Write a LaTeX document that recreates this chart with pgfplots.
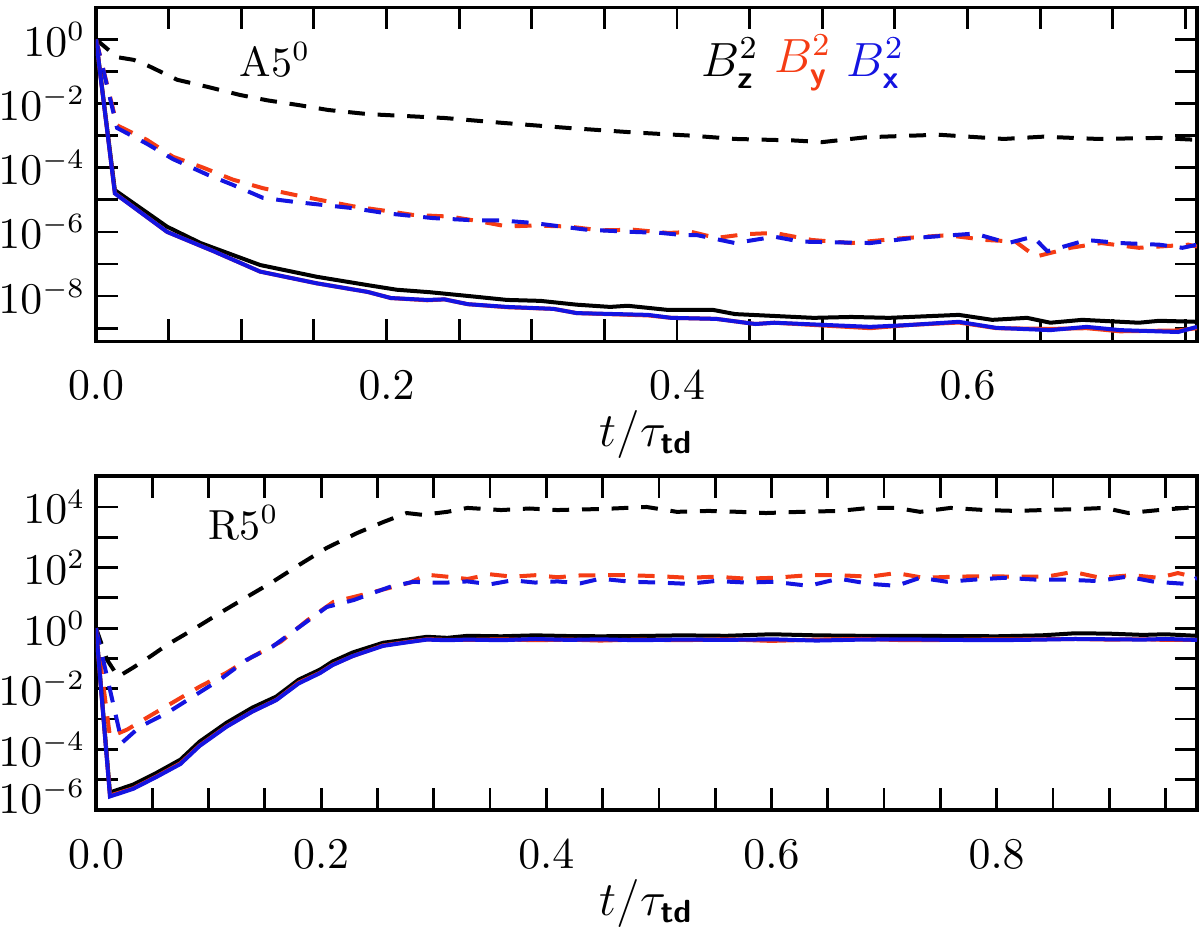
\documentclass[border=0pt]{standalone}
\usepackage{amsmath}
\usepackage{pgfplots}
\pgfplotsset{compat=1.18}
\definecolor{myred}{RGB}{245,60,20}
\definecolor{myblue}{RGB}{20,20,225}
\tikzset{dsh/.style={dash pattern=on 4.2pt off 3.2pt}}
\begin{document}
\begin{tikzpicture}
\useasboundingbox (0,0) rectangle (300pt,-233pt);
% ---------------- top panel ----------------
\begin{axis}[
  scale only axis, width=275.25pt, height=83.5pt,
  anchor=north west, at={(24pt,-1.825pt)},
  ymode=log, xmin=0, xmax=0.758, ymin=3.9e-10, ymax=10,
  axis line style={line width=0.8pt},
  tick style={line width=0.7pt, black},
  major tick length=5.5pt, minor tick length=5.5pt,
  tick align=inside,
  tick label style={font=\fontsize{11}{13}\selectfont},
  yticklabel style={font=\fontsize{10.5}{12}\selectfont, inner xsep=0pt, xshift=-2.5pt},
  xticklabel style={anchor=center, yshift=-11pt},
  x tick label style={/pgf/number format/fixed, /pgf/number format/fixed zerofill, /pgf/number format/precision=1},
  xlabel={$t/\tau_{\textsf{\textbf{td}}}$},
  xlabel style={font=\fontsize{12}{14}\selectfont, at={(axis description cs:0.5,0)}, anchor=base, yshift=-26.25pt},
  xtick={0,0.2,0.4,0.6},
  minor xtick={0.05,0.1,0.15,0.25,0.3,0.35,0.45,0.5,0.55,0.65,0.7,0.75},
  ytick={1e-8,1e-6,1e-4,1e-2,1},
  minor ytick={1e-9,1e-7,1e-5,1e-3,1e-1},
]
% black dashed
\addplot[black, dsh, line width=1pt] coordinates {
(0,1) (0.0145,0.28) (0.026,0.23) (0.035,0.158) (0.056,0.055) (0.077,0.033) (0.099,0.0186) (0.118,0.0126)
(0.14,8.9e-3) (0.16,6.3e-3) (0.187,4.7e-3) (0.24,3.55e-3) (0.28,2.5e-3) (0.325,1.74e-3) (0.37,1.26e-3)
(0.41,1.0e-3) (0.44,7.9e-4) (0.48,7.1e-4) (0.50,6.3e-4) (0.53,8.9e-4) (0.58,1.07e-3) (0.625,7.9e-4)
(0.652,9.3e-4) (0.69,7.9e-4) (0.732,8.5e-4) (0.758,7.4e-4)};
% red dashed
\addplot[myred, dsh, line width=1pt] coordinates {
(0,1) (0.0145,2.1e-3) (0.035,7.4e-4) (0.053,2.2e-4) (0.074,1.0e-4) (0.094,4.3e-5) (0.115,2.3e-5)
(0.136,1.45e-5) (0.154,1.0e-5) (0.177,6.3e-6) (0.2,4.5e-6) (0.218,3.4e-6) (0.244,3.0e-6) (0.265,2.1e-6)
(0.283,1.48e-6) (0.301,1.58e-6) (0.325,1.48e-6) (0.347,1.12e-6) (0.37,1.17e-6) (0.394,9.3e-7) (0.41,1.0e-6)
(0.427,6.5e-7) (0.447,8.5e-7) (0.467,9.3e-7) (0.493,5.6e-7) (0.52,4.5e-7) (0.554,6.3e-7) (0.586,7.9e-7)
(0.613,5.6e-7) (0.633,5.0e-7) (0.647,1.7e-7) (0.671,3.2e-7) (0.692,4.5e-7) (0.718,3.2e-7) (0.752,4.0e-7) (0.758,3.5e-7)};
% blue dashed
\addplot[myblue, dsh, line width=1pt] coordinates {
(0,1) (0.0145,1.74e-3) (0.035,5.6e-4) (0.053,1.86e-4) (0.077,6.0e-5) (0.094,2.95e-5) (0.115,1.15e-5)
(0.136,8.7e-6) (0.154,7.1e-6) (0.177,5.5e-6) (0.2,3.8e-6) (0.232,2.7e-6) (0.26,2.3e-6) (0.278,2.3e-6)
(0.301,1.9e-6) (0.338,1.17e-6) (0.37,1.0e-6) (0.389,9.3e-7) (0.405,7.9e-7) (0.414,7.9e-7) (0.44,4.5e-7)
(0.467,7.1e-7) (0.485,5.0e-7) (0.533,4.5e-7) (0.56,6.3e-7) (0.605,8.9e-7) (0.628,4.5e-7) (0.645,7.1e-7)
(0.655,2.5e-7) (0.682,5.6e-7) (0.705,4.5e-7) (0.732,4.0e-7) (0.748,3.2e-7) (0.758,4.0e-7)};
% black solid
\addplot[black, line width=1pt] coordinates {
(0,1) (0.013,2.0e-5) (0.049,1.45e-6) (0.072,4.5e-7) (0.113,9.3e-8) (0.152,4.0e-8) (0.187,2.2e-8)
(0.207,1.58e-8) (0.23,1.32e-8) (0.257,1.0e-8) (0.283,7.6e-9) (0.306,7.1e-9) (0.331,5.4e-9) (0.354,4.6e-9)
(0.366,5.0e-9) (0.394,3.7e-9) (0.425,3.7e-9) (0.44,2.75e-9) (0.494,2.1e-9) (0.52,2.24e-9) (0.546,2.1e-9)
(0.594,2.6e-9) (0.617,1.82e-9) (0.641,2.1e-9) (0.657,1.48e-9) (0.679,1.82e-9) (0.718,1.48e-9) (0.732,1.7e-9) (0.758,1.58e-9)};
% red solid
\addplot[myred, line width=1pt] coordinates {
(0,1) (0.013,1.6e-5) (0.049,1.0e-6) (0.081,2.5e-7) (0.113,5.8e-8) (0.152,2.5e-8) (0.187,1.35e-8)
(0.203,8.7e-9) (0.228,7.4e-9) (0.24,7.9e-9) (0.256,5.6e-9) (0.283,4.5e-9) (0.315,4.0e-9) (0.331,2.95e-9)
(0.38,2.5e-9) (0.396,2.1e-9) (0.427,1.95e-9) (0.454,1.35e-9) (0.467,1.48e-9) (0.533,1.0e-9) (0.56,1.26e-9)
(0.594,1.5e-9) (0.62,1.0e-9) (0.657,9.5e-10) (0.682,1.0e-9) (0.705,8.0e-10) (0.745,8.5e-10) (0.758,1.0e-9)};
% blue solid
\addplot[myblue, line width=1pt] coordinates {
(0,1) (0.013,1.58e-5) (0.049,1.0e-6) (0.081,2.5e-7) (0.113,5.8e-8) (0.152,2.5e-8) (0.187,1.35e-8)
(0.203,8.7e-9) (0.228,7.6e-9) (0.24,7.9e-9) (0.256,5.6e-9) (0.283,4.6e-9) (0.315,4.0e-9) (0.331,2.95e-9)
(0.38,2.6e-9) (0.396,2.1e-9) (0.427,1.95e-9) (0.454,1.35e-9) (0.467,1.48e-9) (0.533,1.1e-9) (0.56,1.26e-9)
(0.594,1.58e-9) (0.62,1.02e-9) (0.657,8.7e-10) (0.682,1.1e-9) (0.705,8.7e-10) (0.745,7.6e-10) (0.758,1.1e-9)};
\node[font=\fontsize{10.5}{12}\selectfont] at (axis description cs:0.1626,0.842) {A5$^{0}$};
\node[font=\fontsize{12}{14}\selectfont, text=black] at (axis description cs:0.576,0.833) {$B^2_{\textsf{\textbf{z}}}$};
\node[font=\fontsize{12}{14}\selectfont, text=myred] at (axis description cs:0.642,0.833) {$B^2_{\textsf{\textbf{y}}}$};
\node[font=\fontsize{12}{14}\selectfont, text=myblue] at (axis description cs:0.708,0.833) {$B^2_{\textsf{\textbf{x}}}$};
\end{axis}
% ---------------- bottom panel ----------------
\begin{axis}[
  scale only axis, width=275.25pt, height=83.5pt,
  anchor=north west, at={(24pt,-119pt)},
  ymode=log, xmin=0, xmax=0.978, ymin=1e-6, ymax=1.05e5,
  axis line style={line width=0.8pt},
  tick style={line width=0.7pt, black},
  major tick length=5.5pt, minor tick length=5.5pt,
  tick align=inside,
  tick label style={font=\fontsize{11}{13}\selectfont},
  yticklabel style={font=\fontsize{10.5}{12}\selectfont, inner xsep=0pt, xshift=-2.5pt},
  xticklabel style={anchor=center, yshift=-11pt},
  x tick label style={/pgf/number format/fixed, /pgf/number format/fixed zerofill, /pgf/number format/precision=1},
  xlabel={$t/\tau_{\textsf{\textbf{td}}}$},
  xlabel style={font=\fontsize{12}{14}\selectfont, at={(axis description cs:0.5,0)}, anchor=base, yshift=-26.25pt},
  xtick={0,0.2,0.4,0.6,0.8},
  minor xtick={0.05,0.1,0.15,0.25,0.3,0.35,0.45,0.5,0.55,0.65,0.7,0.75,0.85,0.9,0.95},
  ytick={1e-4,1e-2,1,1e2,1e4},
  minor ytick={1e-5,1e-3,1e-1,1e1,1e3},
  extra y ticks={1e-6},
  extra y tick style={yticklabel style={yshift=3.3pt}},
]
% black dashed
\addplot[black, dsh, line width=1pt] coordinates {
(0,1) (0.0098,0.091) (0.0196,0.025) (0.033,0.05) (0.048,0.115) (0.063,0.28) (0.086,0.89) (0.11,3.16)
(0.134,10.7) (0.157,34) (0.181,126) (0.205,447) (0.232,1380) (0.255,3160) (0.276,6300) (0.29,5500)
(0.312,6900) (0.33,9300) (0.36,7900) (0.385,8900) (0.41,7900) (0.43,8300) (0.448,8500) (0.489,10000)
(0.516,6900) (0.544,7400) (0.571,6900) (0.595,6300) (0.626,6900) (0.66,7400) (0.687,9300) (0.711,9300)
(0.732,6900) (0.759,9300) (0.79,7900) (0.817,7400) (0.841,7900) (0.872,8500) (0.896,9300) (0.917,6300)
(0.944,7900) (0.978,10000)};
% red dashed
\addplot[myred, dsh, line width=1pt] coordinates {
(0,1) (0.0124,2.6e-4) (0.0276,4.5e-4) (0.045,1.1e-3) (0.068,3.5e-3) (0.092,0.0117) (0.116,0.034)
(0.139,0.115) (0.164,0.355) (0.188,1.86) (0.211,7.4) (0.229,10.7) (0.247,15.8) (0.264,23) (0.279,32)
(0.294,58) (0.312,50) (0.33,42) (0.35,60) (0.37,50) (0.39,56) (0.41,48) (0.43,55) (0.448,56) (0.472,56)
(0.5,52) (0.526,46) (0.55,50) (0.578,43) (0.602,46) (0.633,56) (0.66,56) (0.687,50) (0.711,66) (0.735,46)
(0.763,50) (0.79,52) (0.817,50) (0.844,50) (0.868,72) (0.892,46) (0.92,56) (0.944,46) (0.961,66) (0.978,46)};
% blue dashed
\addplot[myblue, dsh, line width=1pt] coordinates {
(0,1) (0.0231,1.66e-4) (0.039,5.6e-4) (0.063,1.58e-3) (0.086,5.5e-3) (0.11,0.02) (0.134,0.091)
(0.157,0.25) (0.181,1.12) (0.205,5.0) (0.229,8.5) (0.246,14.5) (0.261,23) (0.282,34) (0.294,32)
(0.312,32) (0.33,35) (0.35,28) (0.37,38) (0.39,32) (0.41,35) (0.43,30) (0.448,43) (0.475,34) (0.5,32)
(0.526,29) (0.55,36) (0.578,32) (0.602,34) (0.633,25) (0.66,43) (0.687,29) (0.711,25) (0.732,46)
(0.756,34) (0.78,40) (0.807,46) (0.835,40) (0.861,40) (0.889,36) (0.916,50) (0.94,34) (0.968,29) (0.978,46)};
% black solid
\addplot[black, line width=1pt] coordinates {
(0,1) (0.0124,3.8e-6) (0.033,6.9e-6) (0.054,1.7e-5) (0.075,4.6e-5) (0.092,1.8e-4) (0.116,7.6e-4)
(0.139,2.4e-3) (0.16,5.5e-3) (0.18,0.02) (0.199,0.043) (0.21,0.079) (0.228,0.158) (0.255,0.33)
(0.276,0.42) (0.294,0.52) (0.312,0.48) (0.33,0.56) (0.36,0.54) (0.39,0.58) (0.42,0.55) (0.448,0.54)
(0.48,0.55) (0.52,0.58) (0.56,0.56) (0.6,0.63) (0.64,0.58) (0.68,0.56) (0.72,0.56) (0.76,0.55) (0.8,0.54)
(0.84,0.58) (0.87,0.68) (0.9,0.66) (0.93,0.6) (0.95,0.63) (0.978,0.56)};
% red solid
\addplot[myred, line width=1pt] coordinates {
(0,1) (0.0124,3.0e-6) (0.033,5.2e-6) (0.054,1.3e-5) (0.075,3.5e-5) (0.092,1.35e-4) (0.116,5.8e-4)
(0.139,1.8e-3) (0.16,4.3e-3) (0.18,0.016) (0.199,0.034) (0.21,0.062) (0.228,0.12) (0.255,0.27)
(0.276,0.35) (0.294,0.43) (0.312,0.41) (0.33,0.41) (0.36,0.43) (0.39,0.4) (0.42,0.42) (0.448,0.39)
(0.48,0.42) (0.52,0.4) (0.56,0.43) (0.6,0.38) (0.64,0.42) (0.68,0.44) (0.72,0.4) (0.76,0.41) (0.8,0.43)
(0.84,0.43) (0.87,0.44) (0.9,0.42) (0.93,0.43) (0.95,0.41) (0.978,0.41)};
% blue solid
\addplot[myblue, line width=1pt] coordinates {
(0,1) (0.0124,2.8e-6) (0.033,5.0e-6) (0.054,1.25e-5) (0.075,3.3e-5) (0.092,1.3e-4) (0.116,5.6e-4)
(0.139,1.78e-3) (0.16,4.2e-3) (0.18,0.015) (0.199,0.033) (0.21,0.06) (0.228,0.12) (0.255,0.26)
(0.276,0.34) (0.294,0.42) (0.312,0.4) (0.33,0.42) (0.36,0.4) (0.39,0.44) (0.42,0.41) (0.448,0.43)
(0.48,0.4) (0.52,0.42) (0.56,0.41) (0.6,0.43) (0.64,0.39) (0.68,0.42) (0.72,0.43) (0.76,0.41) (0.8,0.4)
(0.84,0.42) (0.87,0.44) (0.9,0.43) (0.93,0.42) (0.95,0.44) (0.978,0.41)};
\node[font=\fontsize{10.5}{12}\selectfont] at (axis description cs:0.134,0.859) {R5$^{0}$};
\end{axis}
\end{tikzpicture}
\end{document}
